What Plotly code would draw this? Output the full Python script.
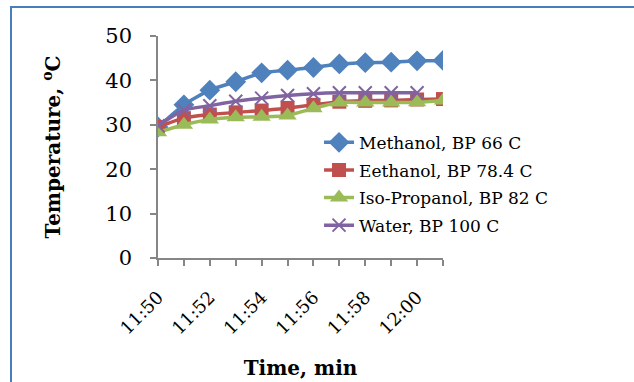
import plotly.graph_objects as go

times = ["11:50", "11:51", "11:52", "11:53", "11:54", "11:55",
         "11:56", "11:57", "11:58", "11:59", "12:00", "12:01"]
methanol = [29.5, 34.5, 37.8, 39.7, 41.7, 42.3, 42.9, 43.7, 44.0, 44.1, 44.4, 44.5]
ethanol = [29.5, 31.5, 32.3, 32.8, 33.2, 33.8, 34.5, 35.2, 35.4, 35.5, 35.7, 35.8]
isopropanol = [28.3, 30.0, 31.2, 31.7, 31.8, 32.1, 33.7, 35.0, 35.0, 35.0, 35.1, 35.5]
water = [29.8, 33.3, 34.3, 35.3, 36.0, 36.6, 37.0, 37.2, 37.2, 37.2, 37.2]

names = ["Methanol, BP 66 C", "Eethanol, BP 78.4 C",
         "Iso-Propanol, BP 82 C", "Water, BP 100 C"]
colors = ["#4F81BD", "#C0504D", "#9BBB59", "#8064A2"]

x = ["2000-01-01 " + t + ":00" for t in times]
FONT = "DejaVu Serif"

fig = go.Figure()
series = [methanol, ethanol, isopropanol, water]
symbols = ["diamond", "square", "triangle-up", "x-thin"]
sizes = [16, 14, 16, 13]
for i, (ys, nm, c, sym, sz) in enumerate(zip(series, names, colors, symbols, sizes)):
    fig.add_trace(go.Scatter(
        x=x[:len(ys)], y=ys, name=nm, mode="lines+markers",
        legendgroup="g%d" % i,
        line=dict(color=c, width=3.5, shape="spline", smoothing=0.6),
        marker=dict(symbol=sym, size=sz, color=c,
                    line=dict(color=c, width=2 if sym == "x-thin" else 0)),
    ))

fig.update_layout(
    width=634, height=382,
    margin=dict(l=158, r=191, t=36, b=124),
    paper_bgcolor="white", plot_bgcolor="white",
    font=dict(family=FONT, color="black"),
    showlegend=True,
    legend=dict(x=0.565, y=0.6, xanchor="left", yanchor="top",
                bgcolor="rgba(0,0,0,0)", font=dict(family=FONT, size=17),
                tracegroupgap=2.5, itemwidth=30),
    xaxis=dict(
        type="date", range=[x[0], x[-1]], automargin=False,
        dtick=120000, tickformat="%H:%M", tickangle=-45,
        ticks="outside", ticklen=6, tickcolor="#868686", tickwidth=1.5,
        showline=True, linecolor="#868686", linewidth=1.5,
        showgrid=False, zeroline=False,
        minor=dict(dtick=60000, ticks="outside", ticklen=6,
                   tickcolor="#868686", tickwidth=1.5, showgrid=False),
        tickfont=dict(family=FONT, size=18),
        ticklabelstandoff=14,
        title=dict(text="<b>Time, min</b>", font=dict(family=FONT, size=20),
                   standoff=24),
    ),
    yaxis=dict(
        range=[0, 50], dtick=10, automargin=False,
        ticks="outside", ticklen=6, tickcolor="#868686", tickwidth=1.5,
        showline=True, linecolor="#868686", linewidth=1.5,
        showgrid=False, zeroline=False,
        tickfont=dict(family=FONT, size=21),
        ticklabelstandoff=14,
        title=dict(text="<b>Temperature, <sup>o</sup>C</b>",
                   font=dict(family=FONT, size=20), standoff=39),
    ),
    shapes=[dict(type="rect", xref="paper", yref="paper",
                 x0=(11 - 158) / 285, x1=(660 - 158) / 285,
                 y0=(258 - 400) / 222, y1=(258 - 7) / 222,
                 line=dict(color="#4A7EBB", width=2),
                 fillcolor="rgba(0,0,0,0)", layer="below")],
)

fig.write_html("out.html")
